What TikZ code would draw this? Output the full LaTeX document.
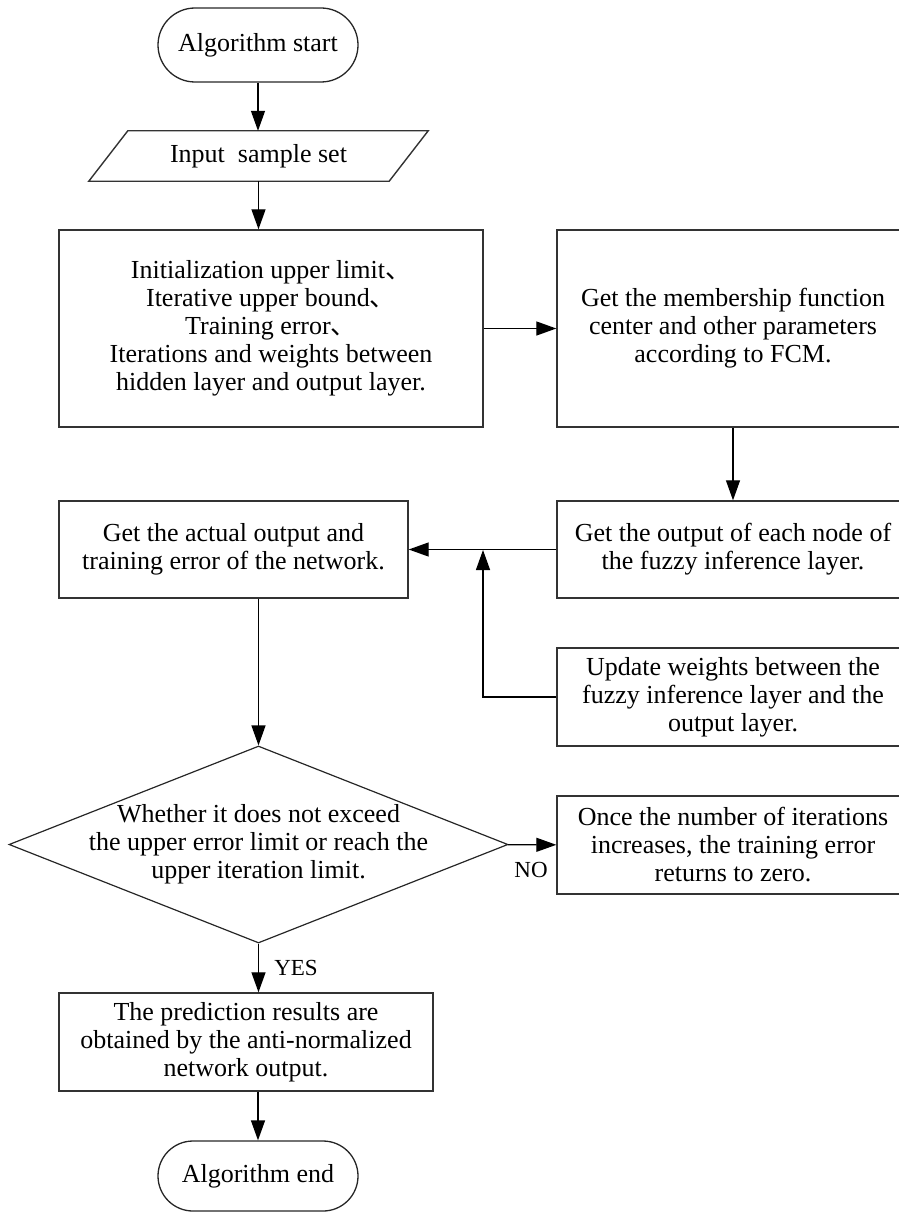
\documentclass[tikz,border=0pt]{standalone}
\usepackage{fontspec}
\setmainfont{Liberation Serif}
\newfontfamily\cjk{Noto Sans CJK SC}
\usetikzlibrary{shapes.geometric, shapes.misc, arrows.meta}
\newcommand{\dun}{{\cjk 、}}
\begin{document}
\begin{tikzpicture}[x=1pt, y=-1pt,
  every node/.style={font=\fontsize{26}{28}\selectfont, align=center, inner sep=0pt},
  box/.style={rectangle, draw=black!80, line width=1.4pt},
  term/.style={rounded rectangle, draw=black!85, line width=1.3pt, minimum width=200pt},
  flow/.style={-{Triangle[length=20pt,width=14pt]}, line width=1.3pt},
  tag/.style={font=\fontsize{23}{26}\selectfont}]

\useasboundingbox (0,0) rectangle (898,1212);

% Start
\path
(258,45) node [term, minimum height=74pt] (start) {Algorithm start};

% Input parallelogram
\path
(258.5,156) node [minimum width=300pt, minimum height=50pt] (input) {Input~ sample set};
\draw[box] ([xshift=19.5pt]input.north west) -- ([xshift=19.5pt]input.north east)
  -- ([xshift=-19.5pt]input.south east) -- ([xshift=-19.5pt]input.south west) -- cycle;

% Initialization and FCM
\path
(271,328.5) node [box, minimum width=424pt, minimum height=197pt] (init)
  {Initialization upper limit\dun\\ Iterative upper bound\dun\\ Training error\dun\\
   Iterations and weights between\\ hidden layer and output layer.};
\path
(733,328.5) node [box, minimum width=352pt, minimum height=197pt] (fcm)
  {Get the membership function\\ center and other parameters\\ according to FCM.};

% Network output row
\path
(733,549.5) node [box, minimum width=352pt, minimum height=97pt] (fuzzy)
  {Get the output of each node of\\ the fuzzy inference layer.};
\path
(233.5,549.5) node [box, minimum width=349pt, minimum height=97pt] (actual)
  {Get the actual output and\\ training error of the network.};
\path
(733,697) node [box, minimum width=352pt, minimum height=98pt] (update)
  {Update weights between the\\ fuzzy inference layer and the\\ output layer.};
\coordinate (join) at (483,550);

% Decision
\path
(258.5,844.5) node [diamond, draw=black!85, line width=1.2pt, minimum width=499pt, minimum height=197pt] (decide) {};
\path
(decide.center) node (decidetext)
  {Whether it does not exceed\\ the upper error limit or reach the\\ upper iteration limit.};
\path
(733,845) node [box, minimum width=352pt, minimum height=98pt] (once)
  {Once the number of iterations\\ increases, the training error\\ returns to zero.};

% Result and end
\path
(246,1042) node [box, minimum width=374pt, minimum height=98pt] (pred)
  {The prediction results are\\ obtained by the anti-normalized\\ network output.};
\path
(258,1176) node [term, minimum height=70pt] (end) {Algorithm end};

% Connectors
\draw[flow] (start.south) -- (start.south |- input.north);
\draw[flow] (input.south) -- (input.south |- init.north);
\draw[flow] (init) -- (fcm);
\draw[flow] (fcm) -- (fuzzy);
\draw[flow] (fuzzy) -- (actual);
\draw[flow] (update.west) -| (join);
\draw[flow] (decide.north |- actual.south) -- (decide.north);
\draw[flow] (decide) -- (once);
\path
(531,870) node [tag] (no) {NO};
\draw[flow] (decide.south) -- (decide.south |- pred.north);
\path
(296,968) node [tag] (yes) {YES};
\draw[flow] (end.north |- pred.south) -- (end.north);

\end{tikzpicture}
\end{document}
